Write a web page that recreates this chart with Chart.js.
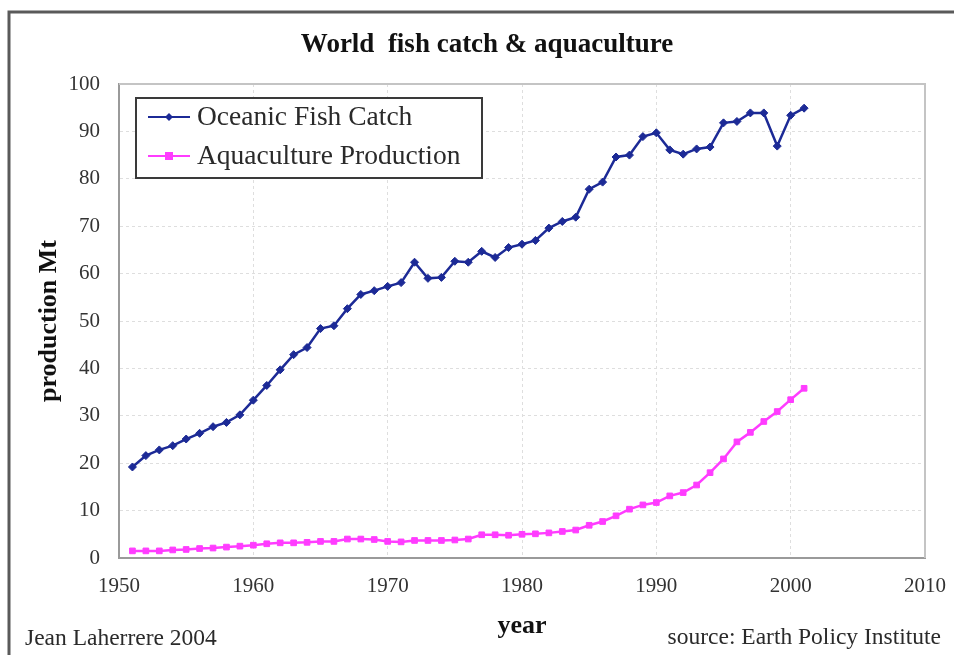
<!DOCTYPE html>
<html>
<head>
<meta charset="utf-8">
<script src="https://cdn.jsdelivr.net/npm/chart.js@4.4.0/dist/chart.umd.min.js"></script>
<style>
  html, body { margin: 0; padding: 0; background: #ffffff; }
  #wrap { width: 954px; height: 655px; position: relative; }
</style>
</head>
<body>
<div id="wrap"><canvas id="c" width="954" height="655"></canvas></div>
<script>
const years = [1951,1952,1953,1954,1955,1956,1957,1958,1959,1960,
  1961,1962,1963,1964,1965,1966,1967,1968,1969,1970,
  1971,1972,1973,1974,1975,1976,1977,1978,1979,1980,
  1981,1982,1983,1984,1985,1986,1987,1988,1989,1990,
  1991,1992,1993,1994,1995,1996,1997,1998,1999,2000,2001];

const fishCatch = [19.2,21.6,22.8,23.7,25.1,26.3,27.7,28.6,30.2,33.3,
  36.4,39.7,42.9,44.4,48.4,49.0,52.6,55.6,56.4,57.3,
  58.1,62.4,59.0,59.2,62.6,62.4,64.7,63.4,65.5,66.2,
  67.0,69.6,71.0,71.9,77.8,79.3,84.6,85.0,88.9,89.7,
  86.1,85.2,86.3,86.7,91.8,92.1,93.9,93.9,86.9,93.4,94.9];

const aquaculture = [1.5,1.5,1.5,1.7,1.8,2.0,2.1,2.3,2.5,2.7,
  3.0,3.2,3.2,3.3,3.5,3.5,4.0,4.0,3.9,3.5,
  3.4,3.7,3.7,3.7,3.8,4.0,4.9,4.9,4.8,5.0,
  5.1,5.3,5.6,5.9,6.9,7.7,8.9,10.3,11.2,11.7,
  13.1,13.8,15.4,18.0,20.9,24.5,26.5,28.8,30.9,33.4,35.8];

const seriesNames = ['Oceanic Fish Catch', 'Aquaculture Production'];
const chartTitle = 'World  fish catch & aquaculture';
const yTitle = 'production Mt';
const xTitle = 'year';
const creditLeft = 'Jean Laherrere 2004';
const creditRight = 'source: Earth Policy Institute';

const SERIF = "'Liberation Serif', 'Times New Roman', serif";
const navy = '#1c2a96';
const magenta = '#ff3cff';

const toXY = (xs, ys) => xs.map((x, i) => ({ x: x, y: ys[i] }));

const decorPlugin = {
  id: 'decor',
  beforeDraw(chart) {
    const ctx = chart.ctx;
    ctx.save();
    ctx.fillStyle = '#ffffff';
    ctx.fillRect(0, 0, chart.width, chart.height);
    ctx.strokeStyle = '#5a5a5a';
    ctx.lineWidth = 3;
    ctx.beginPath();
    ctx.moveTo(9, chart.height + 5);
    ctx.lineTo(9, 12);
    ctx.lineTo(chart.width + 5, 12);
    ctx.stroke();
    ctx.restore();
  },
  afterDatasetsDraw(chart) {
    const ctx = chart.ctx;
    const a = chart.chartArea;
    ctx.save();
    ctx.strokeStyle = '#c4c4c4';
    ctx.lineWidth = 2;
    ctx.beginPath();
    ctx.moveTo(a.left, a.top);
    ctx.lineTo(a.right, a.top);
    ctx.lineTo(a.right, a.bottom);
    ctx.stroke();

    // legend
    const lx = 136, ly = 98, lw = 346, lh = 80;
    ctx.fillStyle = '#ffffff';
    ctx.fillRect(lx, ly, lw, lh);
    ctx.strokeStyle = '#3a3a3a';
    ctx.lineWidth = 2;
    ctx.strokeRect(lx, ly, lw, lh);
    const ds = chart.data.datasets;
    const rows = [117, 156];
    ds.forEach((d, i) => {
      const y = rows[i];
      ctx.strokeStyle = d.borderColor;
      ctx.lineWidth = 2;
      ctx.beginPath();
      ctx.moveTo(148, y);
      ctx.lineTo(190, y);
      ctx.stroke();
      ctx.fillStyle = d.pointBackgroundColor;
      ctx.beginPath();
      if (d.pointStyle === 'rectRot') {
        const r = 4;
        ctx.moveTo(169, y - r); ctx.lineTo(169 + r, y); ctx.lineTo(169, y + r); ctx.lineTo(169 - r, y);
        ctx.closePath();
      } else {
        ctx.rect(169 - 4, y - 4, 8, 8);
      }
      ctx.fill();
      ctx.fillStyle = '#2a2a2a';
      ctx.font = '27.5px ' + SERIF;
      ctx.textAlign = 'left';
      ctx.textBaseline = 'middle';
      ctx.fillText(d.label, 197, y + 1);
    });

    // titles
    ctx.fillStyle = '#111111';
    ctx.textAlign = 'center';
    ctx.textBaseline = 'middle';
    ctx.font = 'bold 27px ' + SERIF;
    ctx.fillText(chartTitle, 487, 45);
    ctx.font = 'bold 26px ' + SERIF;
    ctx.fillText(xTitle, 522, 626);
    ctx.save();
    ctx.translate(49, 321);
    ctx.rotate(-Math.PI / 2);
    ctx.fillText(yTitle, 0, 0);
    ctx.restore();

    ctx.fillStyle = '#2a2a2a';
    ctx.font = '23.5px ' + SERIF;
    ctx.textAlign = 'left';
    ctx.fillText(creditLeft, 25, 639);
    ctx.textAlign = 'right';
    ctx.fillText(creditRight, 941, 638);
    ctx.restore();
  }
};

new Chart(document.getElementById('c'), {
  type: 'line',
  data: {
    datasets: [
      {
        label: seriesNames[0],
        data: toXY(years, fishCatch),
        borderColor: navy,
        backgroundColor: navy,
        pointBackgroundColor: navy,
        pointBorderColor: navy,
        pointStyle: 'rectRot',
        pointRadius: 4,
        pointBorderWidth: 1,
        borderWidth: 2.5,
        tension: 0,
        fill: false
      },
      {
        label: seriesNames[1],
        data: toXY(years, aquaculture),
        borderColor: magenta,
        backgroundColor: magenta,
        pointBackgroundColor: magenta,
        pointBorderColor: magenta,
        pointStyle: 'rect',
        pointRadius: 4,
        pointBorderWidth: 1,
        borderWidth: 2.5,
        tension: 0,
        fill: false
      }
    ]
  },
  options: {
    responsive: false,
    animation: false,
    devicePixelRatio: 1,
    layout: { padding: { left: 0, top: 84, right: 29, bottom: 0 } },
    plugins: {
      legend: { display: false },
      title: { display: false },
      tooltip: { enabled: false }
    },
    scales: {
      x: {
        type: 'linear',
        min: 1950,
        max: 2010,
        afterFit: s => { s.height = 97; s.paddingLeft = 0; s.paddingRight = 0; },
        ticks: {
          stepSize: 10,
          padding: 16,
          color: '#333333',
          font: { family: SERIF, size: 21 },
          maxRotation: 0,
          callback: v => String(v)
        },
        grid: { color: '#dedede', lineWidth: 1, drawTicks: false },
        border: { display: true, color: '#9a9a9a', width: 2, dash: [3, 3] }
      },
      y: {
        min: 0,
        max: 100,
        afterFit: s => { s.width = 119; s.paddingTop = 0; s.paddingBottom = 0; },
        ticks: {
          stepSize: 10,
          padding: 19,
          color: '#333333',
          font: { family: SERIF, size: 21 }
        },
        grid: { color: '#dedede', lineWidth: 1, drawTicks: false },
        border: { display: true, color: '#9a9a9a', width: 2, dash: [3, 3] }
      }
    }
  },
  plugins: [decorPlugin]
});
</script>
</body>
</html>
